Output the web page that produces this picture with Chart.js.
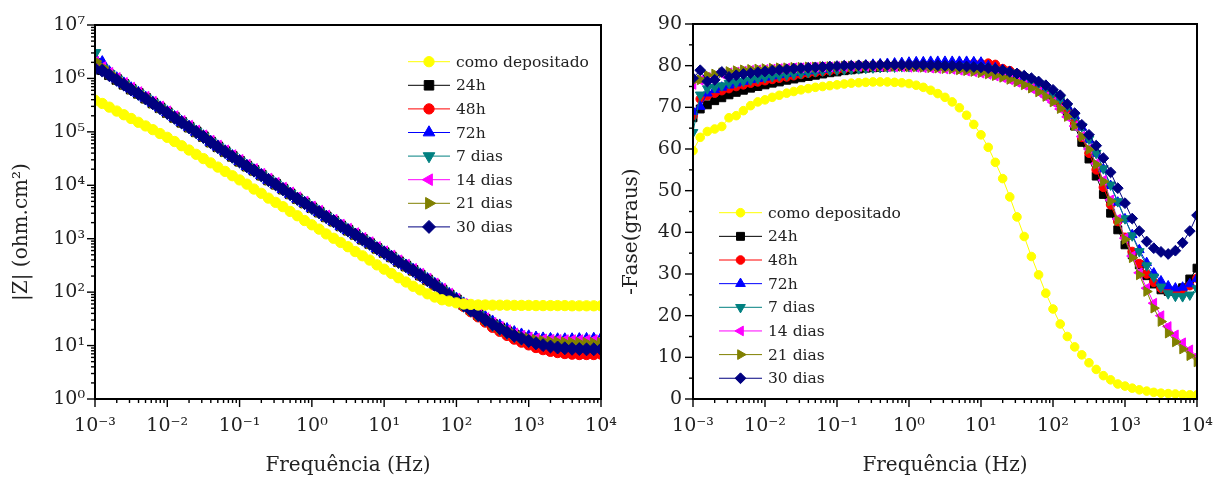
<!DOCTYPE html>
<html>
<head>
<meta charset="utf-8">
<script src="https://cdn.jsdelivr.net/npm/chart.js@4.4.1/dist/chart.umd.min.js"></script>
<style>
  body { margin: 0; background: #fff; }
  #wrap { position: relative; width: 1227px; height: 484px; }
  #modulo { position: absolute; left: 0; top: 0; }
  #fase { position: absolute; left: 613px; top: 0; }
</style>
</head>
<body>
<div id="wrap">
  <canvas id="modulo" width="630" height="484"></canvas>
  <canvas id="fase" width="614" height="484"></canvas>
</div>
<script>
// frequencias (Hz), 10 pontos por decada
const freq = [
  0.001, 0.00126, 0.00158, 0.002, 0.00251, 0.00316, 0.00398, 0.00501, 0.00631, 0.00794,
  0.01, 0.0126, 0.0158, 0.02, 0.0251, 0.0316, 0.0398, 0.0501, 0.0631, 0.0794,
  0.1, 0.126, 0.158, 0.2, 0.251, 0.316, 0.398, 0.501, 0.631, 0.794,
  1, 1.26, 1.58, 2, 2.51, 3.16, 3.98, 5.01, 6.31, 7.94,
  10, 12.6, 15.8, 20, 25.1, 31.6, 39.8, 50.1, 63.1, 79.4,
  100, 126, 158, 200, 251, 316, 398, 501, 631, 794,
  1000, 1260, 1580, 2000, 2510, 3160, 3980, 5010, 6310, 7940, 10000
];

const seriesNames = ["como depositado", "24h", "48h", "72h", "7 dias", "14 dias", "21 dias", "30 dias"];

// |Z| (ohm.cm2)
const zComo = [
  3.9e5, 3.4e5, 2.9e5, 2.45e5, 2.09e5, 1.78e5, 1.51e5, 1.29e5, 1.1e5, 9.3e4,
  7.9e4, 6.6e4, 5.5e4, 4.57e4, 3.8e4, 3.16e4, 2.63e4, 2.19e4, 1.82e4, 1.51e4,
  1.26e4, 1.05e4, 8500, 7080, 5750, 4790, 3980, 3240, 2690, 2190,
  1820, 1510, 1230, 1020, 851, 708, 575, 479, 398, 324,
  269, 224, 186, 155, 129, 110, 93, 81, 72, 68,
  63, 60, 59, 57.5, 57.5, 57, 57, 57, 56.5, 56.5,
  56.5, 56, 56, 56, 56, 56, 55.5, 55.5, 55.5, 55.5, 55.5
];
const z24h = [
  1.9e6, 1.45e6, 1.17e6, 9.55e5, 7.76e5, 6.31e5, 5.25e5, 4.27e5, 3.47e5, 2.82e5,
  2.29e5, 1.86e5, 1.51e5, 1.23e5, 1.0e5, 8.13e4, 6.46e4, 5.25e4, 4.27e4, 3.47e4,
  2.82e4, 2.29e4, 1.91e4, 1.55e4, 1.26e4, 1.05e4, 8510, 6920, 5620, 4680,
  3800, 3160, 2570, 2140, 1740, 1450, 1200, 977, 813, 661,
  550, 457, 372, 309, 257, 209, 170, 138, 110, 89,
  72, 58, 47, 38, 31, 25, 21.4, 18.2, 15.8, 14.1,
  12.6, 11.5, 10.7, 10.2, 9.8, 9.5, 9.3, 9.1, 8.9, 8.7, 8.6
];
const z48h = [
  2.0e6, 1.5e6, 1.2e6, 9.7e5, 7.9e5, 6.4e5, 5.3e5, 4.3e5, 3.5e5, 2.85e5,
  2.3e5, 1.87e5, 1.52e5, 1.24e5, 1.0e5, 8.2e4, 6.5e4, 5.3e4, 4.3e4, 3.5e4,
  2.84e4, 2.3e4, 1.92e4, 1.56e4, 1.27e4, 1.05e4, 8550, 6950, 5650, 4700,
  3820, 3170, 2580, 2150, 1750, 1450, 1200, 980, 815, 662,
  548, 455, 370, 306, 253, 205, 166, 134, 106, 85,
  68, 54, 43, 34.5, 27.5, 22, 18.5, 15.5, 13.2, 11.6,
  10.3, 9.2, 8.4, 7.8, 7.4, 7.1, 6.9, 6.8, 6.8, 6.8, 6.9
];
const z72h = [
  2.4e6, 2.0e6, 1.3e6, 1.0e6, 8.0e5, 6.5e5, 5.35e5, 4.35e5, 3.52e5, 2.85e5,
  2.32e5, 1.88e5, 1.53e5, 1.24e5, 1.0e5, 8.2e4, 6.5e4, 5.3e4, 4.3e4, 3.5e4,
  2.84e4, 2.3e4, 1.9e4, 1.55e4, 1.26e4, 1.04e4, 8480, 6900, 5600, 4660,
  3780, 3140, 2560, 2130, 1730, 1440, 1190, 975, 812, 662,
  552, 460, 376, 313, 261, 213, 174, 142, 114, 92,
  75, 61, 50, 41, 34, 28, 23.6, 20.2, 17.7, 16.0,
  14.8, 14.0, 13.5, 13.2, 13.0, 13.0, 13.0, 13.1, 13.2, 13.3, 13.5
];
const z7d = [
  3.0e6, 1.55e6, 1.2e6, 9.6e5, 7.8e5, 6.3e5, 5.2e5, 4.25e5, 3.45e5, 2.8e5,
  2.27e5, 1.85e5, 1.5e5, 1.22e5, 9.9e4, 8.0e4, 6.4e4, 5.2e4, 4.22e4, 3.44e4,
  2.8e4, 2.27e4, 1.89e4, 1.54e4, 1.25e4, 1.04e4, 8440, 6870, 5580, 4640,
  3770, 3130, 2550, 2120, 1720, 1430, 1190, 970, 806, 655,
  545, 452, 368, 305, 253, 206, 167, 136, 108, 87,
  70, 56, 45.5, 37, 30, 24.5, 20.5, 17.4, 15.1, 13.5,
  12.3, 11.4, 10.9, 10.5, 10.3, 10.2, 10.2, 10.2, 10.3, 10.4, 10.5
];
const z14d = [
  2.0e6, 1.6e6, 1.25e6, 1.0e6, 8.1e5, 6.6e5, 5.45e5, 4.45e5, 3.6e5, 2.93e5,
  2.38e5, 1.93e5, 1.57e5, 1.28e5, 1.04e5, 8.45e4, 6.7e4, 5.45e4, 4.43e4, 3.6e4,
  2.93e4, 2.38e4, 1.98e4, 1.61e4, 1.31e4, 1.09e4, 8850, 7200, 5850, 4870,
  3950, 3280, 2670, 2220, 1810, 1510, 1250, 1015, 845, 688,
  572, 475, 387, 321, 267, 217, 176, 143, 114, 92,
  74, 59, 48, 39, 32, 26, 22, 19, 16.6, 15,
  13.9, 13.2, 12.8, 12.6, 12.5, 12.4, 12.4, 12.4, 12.4, 12.4, 12.4
];
const z21d = [
  2.1e6, 1.6e6, 1.24e6, 9.9e5, 8.0e5, 6.5e5, 5.4e5, 4.4e5, 3.56e5, 2.9e5,
  2.35e5, 1.9e5, 1.55e5, 1.26e5, 1.03e5, 8.35e4, 6.6e4, 5.38e4, 4.37e4, 3.55e4,
  2.89e4, 2.34e4, 1.95e4, 1.58e4, 1.29e4, 1.07e4, 8700, 7080, 5750, 4790,
  3890, 3230, 2630, 2190, 1780, 1480, 1230, 1000, 830, 676,
  563, 467, 381, 316, 263, 214, 174, 141, 113, 91,
  73, 58.5, 47.5, 38.5, 31.5, 25.8, 21.8, 18.7, 16.2, 14.5,
  13.3, 12.5, 12.0, 11.7, 11.5, 11.3, 11.2, 11.1, 11.0, 11.0, 11.0
];
const z30d = [
  1.5e6, 1.4e6, 1.15e6, 9.4e5, 7.65e5, 6.2e5, 5.15e5, 4.2e5, 3.42e5, 2.78e5,
  2.26e5, 1.84e5, 1.5e5, 1.22e5, 9.9e4, 8.05e4, 6.4e4, 5.2e4, 4.22e4, 3.44e4,
  2.8e4, 2.27e4, 1.89e4, 1.54e4, 1.25e4, 1.04e4, 8450, 6880, 5590, 4650,
  3780, 3140, 2560, 2130, 1730, 1440, 1195, 972, 810, 658,
  548, 455, 371, 308, 256, 208, 169, 137, 109, 88,
  71, 57, 46, 37.5, 30.5, 25, 21, 17.8, 15.3, 13.6,
  12.2, 11.0, 10.2, 9.6, 9.2, 8.9, 8.7, 8.6, 8.5, 8.5, 8.5
];

// -fase (graus)
const fComo = [
  59.6, 62.8, 64.2, 64.8, 65.4, 67.5, 68.0, 69.2, 70.4, 71.3,
  71.8, 72.4, 72.9, 73.4, 73.8, 74.2, 74.5, 74.8, 75.0, 75.2,
  75.4, 75.6, 75.8, 75.9, 76.0, 76.1, 76.1, 76.1, 76.0, 75.9,
  75.7, 75.3, 74.8, 74.1, 73.3, 72.4, 71.3, 69.9, 68.1, 65.9,
  63.4, 60.4, 56.8, 52.9, 48.5, 43.7, 39.0, 34.2, 29.8, 25.4,
  21.6, 18.0, 15.0, 12.5, 10.6, 8.7, 7.1, 5.6, 4.6, 3.6,
  3.1, 2.6, 2.2, 1.9, 1.6, 1.4, 1.3, 1.2, 1.1, 1.0, 1.0
];
const f24h = [
  67.5, 69.6, 70.6, 71.6, 72.3, 73.0, 73.6, 74.1, 74.6, 75.0,
  75.4, 75.8, 76.1, 76.5, 76.8, 77.1, 77.4, 77.7, 78.0, 78.3,
  78.5, 78.8, 79.0, 79.2, 79.4, 79.5, 79.6, 79.7, 79.8, 79.8,
  79.9, 79.9, 79.9, 79.9, 79.8, 79.8, 79.7, 79.6, 79.5, 79.4,
  79.3, 79.1, 78.9, 78.6, 78.2, 77.7, 77.1, 76.4, 75.5, 74.4,
  73.0, 71.2, 68.8, 65.5, 61.6, 57.6, 53.5, 49.1, 44.6, 40.6,
  37.0, 34.6, 32.2, 29.6, 27.6, 26.2, 25.8, 25.9, 26.7, 28.8, 31.4
];
const f48h = [
  68.0, 72.0, 72.8, 73.4, 74.0, 74.5, 75.0, 75.4, 75.8, 76.1,
  76.4, 76.7, 77.0, 77.3, 77.6, 77.9, 78.2, 78.4, 78.6, 78.8,
  79.0, 79.2, 79.4, 79.6, 79.7, 79.8, 79.9, 80.0, 80.0, 80.1,
  80.1, 80.2, 80.2, 80.2, 80.3, 80.3, 80.3, 80.4, 80.4, 80.5,
  80.5, 80.6, 80.3, 79.3, 78.8, 78.1, 77.3, 76.5, 75.6, 74.5,
  73.1, 71.4, 69.2, 66.2, 62.8, 59.0, 55.0, 50.8, 46.6, 42.6,
  38.8, 35.4, 32.5, 30.0, 28.0, 26.6, 25.8, 25.6, 26.0, 27.2, 29.0
];
const f72h = [
  69.0, 70.2, 73.4, 74.2, 74.8, 75.3, 75.8, 76.2, 76.6, 76.9,
  77.2, 77.5, 77.8, 78.1, 78.3, 78.5, 78.7, 78.9, 79.1, 79.3,
  79.5, 79.7, 79.8, 80.0, 80.1, 80.3, 80.4, 80.5, 80.6, 80.7,
  80.8, 80.9, 80.9, 81.0, 81.0, 81.0, 81.0, 81.0, 81.0, 80.9,
  80.8, 80.0, 79.5, 79.0, 78.5, 78.0, 77.4, 76.7, 75.9, 74.9,
  73.7, 72.2, 70.3, 68.0, 65.2, 62.2, 58.9, 55.2, 51.2, 47.2,
  43.2, 39.4, 35.8, 32.7, 30.2, 28.3, 27.1, 26.6, 26.8, 27.6, 28.9
];
const f7d = [
  64.0, 73.0, 74.5, 74.8, 75.2, 75.8, 76.0, 76.3, 76.6, 76.9,
  77.2, 77.4, 77.6, 77.8, 78.0, 78.2, 78.4, 78.6, 78.8, 78.9,
  79.0, 79.1, 79.2, 79.3, 79.4, 79.5, 79.6, 79.7, 79.7, 79.8,
  79.8, 79.9, 79.9, 79.9, 79.9, 79.9, 79.8, 79.8, 79.7, 79.6,
  79.5, 79.3, 79.0, 78.7, 78.3, 77.8, 77.2, 76.5, 75.7, 74.7,
  73.5, 72.0, 70.2, 67.9, 65.4, 62.4, 59.0, 55.3, 51.4, 47.4,
  43.3, 39.2, 35.4, 32.0, 29.3, 26.9, 25.3, 24.7, 24.6, 25.0, 26.5
];
const f14d = [
  75.5, 76.5, 77.2, 77.6, 78.0, 78.3, 78.5, 78.7, 78.9, 79.0,
  79.1, 79.2, 79.3, 79.4, 79.5, 79.5, 79.6, 79.6, 79.7, 79.7,
  79.8, 79.8, 79.8, 79.8, 79.8, 79.8, 79.8, 79.7, 79.7, 79.7,
  79.6, 79.6, 79.5, 79.4, 79.3, 79.2, 79.1, 78.9, 78.7, 78.5,
  78.2, 77.9, 77.5, 77.1, 76.6, 76.0, 75.3, 74.5, 73.6, 72.5,
  71.2, 69.6, 67.7, 65.5, 63.0, 60.0, 56.5, 52.5, 47.8, 43.2,
  38.6, 34.3, 30.3, 26.6, 23.0, 20.0, 17.4, 15.4, 13.5, 11.8, 10.3
];
const f21d = [
  76.3, 76.6, 77.7, 78.0, 78.3, 78.6, 78.8, 79.0, 79.1, 79.2,
  79.3, 79.4, 79.5, 79.5, 79.6, 79.6, 79.7, 79.7, 79.8, 79.8,
  79.8, 79.9, 79.9, 79.9, 79.9, 79.9, 79.9, 79.8, 79.8, 79.8,
  79.7, 79.7, 79.6, 79.5, 79.4, 79.3, 79.2, 79.0, 78.8, 78.6,
  78.3, 78.0, 77.6, 77.2, 76.7, 76.1, 75.4, 74.6, 73.7, 72.6,
  71.3, 69.7, 67.8, 65.6, 63.0, 59.9, 56.3, 52.2, 47.5, 42.9,
  38.3, 33.9, 29.8, 25.8, 21.8, 18.6, 15.8, 13.7, 12.0, 10.4, 8.9
];
const f30d = [
  77.0, 78.9, 76.2, 76.6, 78.5, 77.3, 77.7, 78.0, 78.2, 78.4,
  78.6, 78.8, 79.0, 79.1, 79.3, 79.4, 79.5, 79.6, 79.7, 79.8,
  79.9, 80.0, 80.0, 80.1, 80.1, 80.1, 80.2, 80.2, 80.2, 80.2,
  80.2, 80.2, 80.2, 80.1, 80.1, 80.0, 80.0, 79.9, 79.8, 79.7,
  79.6, 79.4, 79.2, 78.9, 78.5, 78.1, 77.6, 77.0, 76.2, 75.3,
  74.2, 72.9, 70.8, 68.6, 65.8, 63.4, 60.8, 57.8, 54.4, 50.6,
  47.0, 43.3, 40.3, 37.8, 36.2, 35.3, 34.8, 35.6, 37.5, 40.3, 44.1
];

const moduloSeries = [zComo, z24h, z48h, z72h, z7d, z14d, z21d, z30d];
const faseSeries = [fComo, f24h, f48h, f72h, f7d, f14d, f21d, f30d];

const colors = ["#ffff00", "#000000", "#ff0000", "#0000ff", "#008080", "#ff00ff", "#808000", "#000080"];
const markers = ["circle", "rect", "circle", "triangle", "triangle", "triangle", "triangle", "rectRot"];
const rotations = [0, 0, 0, 0, 180, 270, 90, 0];
const markerSize = { circle: 4.3, rect: 5.6, triangle: 5.6, rectRot: 5.4 };
// lower order is painted last (on top)
const drawOrder = [0, 7, 6, 5, 4, 3, 2, 1];

const TXT = "#222";
Chart.defaults.font.family = "'DejaVu Serif', serif";
Chart.defaults.color = TXT;

const sup = { "-": "\u207b", "0": "\u2070", "1": "\u00b9", "2": "\u00b2", "3": "\u00b3",
  "4": "\u2074", "5": "\u2075", "6": "\u2076", "7": "\u2077", "8": "\u2078", "9": "\u2079" };

function isDecade(v) {
  const e = Math.round(Math.log10(v));
  return Math.abs(v / Math.pow(10, e) - 1) < 1e-6;
}
function powLabel(v) {
  if (!isDecade(v)) return "";
  const e = Math.round(Math.log10(v));
  return "10" + String(e).split("").map(c => sup[c]).join("");
}
// 1..9 x 10^n ticks for a log axis
function decadeTicks(scale) {
  const ticks = [];
  const lo = Math.round(Math.log10(scale.min));
  const hi = Math.round(Math.log10(scale.max));
  for (let e = lo; e <= hi; e++) {
    for (let m = 1; m <= 9; m++) {
      const v = m * Math.pow(10, e);
      if (v > scale.max * 1.0001) break;
      ticks.push({ value: v });
    }
  }
  scale.ticks = ticks;
}
// fixed axis size, no extra room for overhanging labels
function fixSize(prop, size) {
  return s => {
    s[prop] = size;
    s.paddingLeft = s.paddingRight = s.paddingTop = s.paddingBottom = 0;
  };
}

function buildSets(list, grow) {
  return list.map((vals, i) => ({
    label: seriesNames[i],
    data: freq.map((f, k) => ({ x: f, y: vals[k] })),
    borderColor: colors[i],
    backgroundColor: colors[i],
    borderWidth: 1,
    pointStyle: markers[i],
    pointRotation: rotations[i],
    pointRadius: markerSize[markers[i]] * grow,
    pointBorderWidth: 1,
    order: drawOrder[i],
    tension: 0
  }));
}

// box round the plot plus outward tick marks (long on labelled ticks)
const axisFrame = {
  id: "axisFrame",
  afterDraw(chart) {
    const { ctx, chartArea: a, scales } = chart;
    const major = (s, v) => s.type === "logarithmic" ? isDecade(v) : v % 10 === 0;
    ctx.save();
    ctx.strokeStyle = "#000";
    ctx.lineWidth = 1.4;
    scales.x.ticks.forEach(t => {
      const px = scales.x.getPixelForValue(t.value);
      const len = major(scales.x, t.value) ? 8 : 4;
      ctx.beginPath();
      ctx.moveTo(px, a.bottom);
      ctx.lineTo(px, a.bottom + len);
      ctx.stroke();
    });
    scales.y.ticks.forEach(t => {
      const py = scales.y.getPixelForValue(t.value);
      const len = major(scales.y, t.value) ? 8 : 4;
      ctx.beginPath();
      ctx.moveTo(a.left, py);
      ctx.lineTo(a.left - len, py);
      ctx.stroke();
    });
    ctx.lineWidth = 2;
    ctx.strokeRect(a.left, a.top, a.right - a.left, a.bottom - a.top);
    ctx.restore();
  }
};

// legend inside the plot: short line with the marker on it, then the label
const curveKey = {
  id: "curveKey",
  afterDraw(chart, args, opts) {
    const { ctx, chartArea: a } = chart;
    ctx.save();
    ctx.font = opts.size + "px 'DejaVu Serif'";
    ctx.textBaseline = "middle";
    ctx.textAlign = "left";
    chart.data.datasets.forEach((ds, i) => {
      const x0 = a.left + opts.left;
      const y = a.top + opts.top + i * opts.step;
      ctx.strokeStyle = ds.borderColor;
      ctx.fillStyle = ds.backgroundColor;
      ctx.lineWidth = 1;
      ctx.beginPath();
      ctx.moveTo(x0, y);
      ctx.lineTo(x0 + opts.line, y);
      ctx.stroke();
      Chart.helpers.drawPoint(ctx, {
        pointStyle: ds.pointStyle, rotation: ds.pointRotation,
        radius: ds.pointRadius, borderWidth: 1
      }, x0 + opts.line / 2, y);
      ctx.fillStyle = TXT;
      ctx.fillText(ds.label, x0 + opts.line + opts.gap, y + 1);
    });
    ctx.restore();
  }
};

function logX() {
  return {
    type: "logarithmic", min: 1e-3, max: 1e4,
    afterBuildTicks: decadeTicks,
    afterFit: fixSize("height", 85),
    grid: { display: false, drawTicks: false },
    border: { display: false },
    ticks: { autoSkip: false, maxRotation: 0, padding: 16, font: { size: 19 }, callback: v => powLabel(v) },
    title: { display: true, text: "Frequência (Hz)", font: { size: 20 }, padding: { top: 0, bottom: 6 } }
  };
}

new Chart(document.getElementById("modulo"), {
  type: "line",
  data: { datasets: buildSets(moduloSeries, 1.2) },
  options: {
    responsive: false,
    animation: false,
    devicePixelRatio: 1,
    layout: { padding: { left: 0, right: 29, top: 25, bottom: 0 }, autoPadding: false },
    plugins: {
      legend: { display: false },
      tooltip: { enabled: false },
      curveKey: { left: 313, top: 36.7, step: 23.6, line: 42, gap: 6, size: 15.5 }
    },
    scales: {
      x: logX(),
      y: {
        type: "logarithmic", min: 1, max: 1e7,
        afterBuildTicks: decadeTicks,
        afterFit: fixSize("width", 95),
        grid: { display: false, drawTicks: false },
        border: { display: false },
        ticks: { autoSkip: false, padding: 10, font: { size: 19 }, callback: v => powLabel(v) },
        title: { display: true, text: "|Z| (ohm.cm\u00b2)\u2003\u2003", font: { size: 20 }, padding: { top: 10, bottom: 0 } }
      }
    }
  },
  plugins: [axisFrame, curveKey]
});

new Chart(document.getElementById("fase"), {
  type: "line",
  data: { datasets: buildSets(faseSeries, 1) },
  options: {
    responsive: false,
    animation: false,
    devicePixelRatio: 1,
    layout: { padding: { left: 0, right: 30, top: 24, bottom: 0 }, autoPadding: false },
    plugins: {
      legend: { display: false },
      tooltip: { enabled: false },
      curveKey: { left: 26, top: 188.7, step: 23.65, line: 43, gap: 6, size: 15.5 }
    },
    scales: {
      x: logX(),
      y: {
        type: "linear", min: 0, max: 90,
        afterFit: fixSize("width", 80),
        grid: { display: false, drawTicks: false },
        border: { display: false },
        ticks: { stepSize: 5, autoSkip: false, padding: 11, font: { size: 19 },
          callback: v => (v % 10 === 0 ? String(v) : "") },
        title: { display: true, text: "-Fase(graus)\u2003\u2003", font: { size: 20 }, padding: { top: 7, bottom: 0 } }
      }
    }
  },
  plugins: [axisFrame, curveKey]
});
</script>
</body>
</html>
